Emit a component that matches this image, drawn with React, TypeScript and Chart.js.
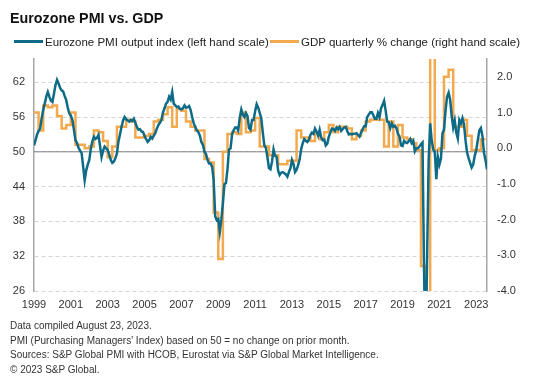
import React, { useEffect, useRef } from 'react';
import { Chart, registerables } from 'chart.js';

Chart.register(...registerables);

const TITLE = 'Eurozone PMI vs. GDP';
const PMI_LABEL = 'Eurozone PMI output index (left hand scale)';
const GDP_LABEL = 'GDP quarterly % change (right hand scale)';
const NOTES = [
  'Data compiled August 23, 2023.',
  "PMI (Purchasing Managers' Index) based on 50 = no change on prior month.",
  'Sources: S&P Global PMI with HCOB, Eurostat via S&P Global Market Intelligence.',
  '\u00A9 2023 S&P Global.',
];

// Monthly PMI, starting January 1999
const PMI_START_YEAR = 1999;
const pmi1999 = [51.1, 52.0, 53.0, 53.6, 54.0, 55.8, 57.2, 58.3, 59.5, 60.3, 59.5, 58.8];
const pmi2000 = [58.6, 60.0, 61.5, 62.4, 61.8, 61.0, 60.6, 60.4, 59.6, 58.9, 57.6, 56.6];
const pmi2001 = [56.2, 55.5, 53.8, 52.0, 51.5, 50.7, 50.2, 49.8, 47.5, 45.1, 46.8, 47.8];
const pmi2002 = [48.6, 50.5, 51.8, 52.6, 52.2, 52.4, 52.9, 51.0, 49.1, 50.2, 50.9, 50.6];
const pmi2003 = [50.3, 49.5, 48.6, 48.1, 48.3, 48.9, 49.7, 51.8, 53.0, 54.3, 55.4, 56.0];
const pmi2004 = [55.6, 55.4, 55.2, 55.5, 55.3, 55.7, 55.0, 54.3, 53.8, 53.9, 53.5, 53.4];
const pmi2005 = [52.7, 52.2, 51.7, 52.0, 52.6, 52.3, 52.8, 53.2, 54.0, 54.6, 55.0, 55.5];
const pmi2006 = [56.8, 57.5, 58.3, 58.6, 59.5, 59.0, 60.3, 58.3, 58.0, 57.7, 57.8, 57.4];
const pmi2007 = [57.3, 57.5, 58.0, 57.6, 57.7, 57.9, 57.2, 56.0, 54.9, 54.3, 53.7, 53.4];
const pmi2008 = [52.8, 51.7, 51.2, 50.0, 49.6, 48.6, 48.0, 48.0, 47.4, 45.1, 38.9, 38.2];
const pmi2009 = [38.4, 36.2, 38.3, 41.1, 44.4, 44.6, 47.0, 50.4, 50.6, 53.0, 53.7, 54.2];
const pmi2010 = [54.2, 53.7, 55.9, 57.3, 56.4, 56.0, 56.7, 56.2, 54.1, 53.8, 55.5, 55.5];
const pmi2011 = [57.0, 58.2, 57.6, 56.7, 55.8, 53.3, 51.1, 50.7, 49.1, 47.2, 47.0, 48.3];
const pmi2012 = [50.4, 49.3, 49.1, 46.7, 46.0, 46.4, 46.5, 46.3, 46.1, 45.7, 46.5, 47.2];
const pmi2013 = [48.6, 47.9, 46.5, 46.9, 47.7, 48.7, 50.5, 51.5, 52.2, 51.9, 51.7, 52.1];
const pmi2014 = [52.9, 53.3, 53.1, 54.0, 53.5, 52.8, 53.8, 52.5, 52.0, 52.1, 51.1, 51.4];
const pmi2015 = [52.6, 53.3, 54.0, 53.9, 53.6, 54.2, 53.9, 54.3, 53.6, 53.9, 54.2, 54.3];
const pmi2016 = [53.6, 53.0, 53.1, 53.0, 53.1, 53.1, 53.2, 52.9, 52.6, 53.3, 53.9, 54.4];
const pmi2017 = [54.4, 56.0, 56.4, 56.8, 56.8, 56.3, 55.7, 55.7, 56.7, 56.0, 57.5, 58.1];
const pmi2018 = [58.8, 57.1, 55.2, 55.1, 54.1, 54.9, 54.3, 54.5, 54.1, 53.1, 52.7, 51.1];
const pmi2019 = [51.0, 51.9, 51.6, 51.5, 51.8, 52.2, 51.5, 51.9, 50.1, 50.6, 50.6, 50.9];
const pmi2020 = [51.3, 51.6, 29.7, 13.6, 31.9, 48.5, 54.9, 51.9, 50.4, 50.0, 45.3, 49.1];
const pmi2021 = [47.8, 48.8, 53.2, 53.8, 57.1, 59.5, 60.2, 59.0, 56.2, 54.2, 55.4, 53.3];
const pmi2022 = [52.3, 55.5, 54.9, 55.8, 54.8, 52.0, 49.9, 48.9, 48.1, 47.3, 47.8, 49.3];
const pmi2023 = [50.3, 52.0, 53.7, 54.1, 52.8, 49.9, 48.6, 47.0];

// Quarterly GDP % change, starting 1999 Q1
const GDP_START_YEAR = 1999;
const gdp1999 = [1.0, 0.5, 1.2, 1.15];
const gdp2000 = [1.2, 0.9, 0.55, 0.65];
const gdp2001 = [1.0, 0.1, 0.1, 0.0];
const gdp2002 = [0.05, 0.5, 0.45, 0.2];
const gdp2003 = [-0.25, 0.05, 0.6, 0.6];
const gdp2004 = [0.8, 0.75, 0.3, 0.3];
const gdp2005 = [0.35, 0.4, 0.75, 0.8];
const gdp2006 = [0.95, 1.15, 0.6, 1.1];
const gdp2007 = [1.05, 0.75, 0.6, 0.5];
const gdp2008 = [0.5, -0.3, -0.4, -1.8];
const gdp2009 = [-3.1, -0.1, 0.4, 0.45];
const gdp2010 = [0.4, 1.0, 0.45, 0.5];
const gdp2011 = [0.85, 0.05, 0.05, -0.2];
const gdp2012 = [-0.2, -0.45, -0.45, -0.35];
const gdp2013 = [-0.35, 0.5, 0.3, 0.3];
const gdp2014 = [0.2, 0.45, 0.25, 0.45];
const gdp2015 = [0.65, 0.45, 0.6, 0.6];
const gdp2016 = [0.55, 0.25, 0.35, 0.5];
const gdp2017 = [0.75, 0.8, 0.8, 0.8];
const gdp2018 = [0.05, 0.75, 0.05, 0.65];
const gdp2019 = [0.3, 0.25, 0.15, -0.05];
const gdp2020 = [-3.3, -11.5, 12.4, -0.05];
const gdp2021 = [0.0, 2.0, 2.2, 0.6];
const gdp2022 = [0.6, 0.8, 0.35, -0.05];
const gdp2023 = [-0.05, 0.25];

const xTickYears = [1999, 2001, 2003, 2005, 2007, 2009, 2011, 2013, 2015, 2017, 2019, 2021, 2023];
const leftTicks = [26, 32, 38, 44, 50, 56, 62];
const rightTicks = [-4, -3, -2, -1, 0, 1, 2];
const NO_CHANGE_LEVEL = 50;

const X_MIN = 1999;
const X_MAX = 2023 + 7 / 12;
const LEFT_MIN = 26;
const LEFT_MAX = 66;
const RIGHT_MIN = -4;
const RIGHT_MAX = 2.5;

const TEAL = '#0d6b88';
const ORANGE = '#f3a94d';
const FONT = 'Arial, "Liberation Sans", Helvetica, sans-serif';

const pmiMonthly = [
  ...pmi1999, ...pmi2000, ...pmi2001, ...pmi2002, ...pmi2003, ...pmi2004, ...pmi2005,
  ...pmi2006, ...pmi2007, ...pmi2008, ...pmi2009, ...pmi2010, ...pmi2011, ...pmi2012,
  ...pmi2013, ...pmi2014, ...pmi2015, ...pmi2016, ...pmi2017, ...pmi2018, ...pmi2019,
  ...pmi2020, ...pmi2021, ...pmi2022, ...pmi2023,
];
const gdpQuarterly = [
  ...gdp1999, ...gdp2000, ...gdp2001, ...gdp2002, ...gdp2003, ...gdp2004, ...gdp2005,
  ...gdp2006, ...gdp2007, ...gdp2008, ...gdp2009, ...gdp2010, ...gdp2011, ...gdp2012,
  ...gdp2013, ...gdp2014, ...gdp2015, ...gdp2016, ...gdp2017, ...gdp2018, ...gdp2019,
  ...gdp2020, ...gdp2021, ...gdp2022, ...gdp2023,
];

const CANVAS_W = 545;
const CANVAS_H = 320;

const noChangeLine = {
  id: 'noChangeLine',
  beforeDatasetsDraw(chart: any) {
    const { ctx, chartArea } = chart;
    const y = chart.scales.y.getPixelForValue(NO_CHANGE_LEVEL);
    ctx.save();
    ctx.strokeStyle = '#808080';
    ctx.lineWidth = 1;
    ctx.beginPath();
    ctx.moveTo(chartArea.left, y);
    ctx.lineTo(chartArea.right, y);
    ctx.stroke();
    ctx.restore();
  },
};

export default function App() {
  const ref = useRef<HTMLCanvasElement | null>(null);

  useEffect(() => {
    if (!ref.current) return;
    const pmiPoints = pmiMonthly.map((v, i) => ({ x: PMI_START_YEAR + i / 12, y: v }));
    const gdpPoints = gdpQuarterly.map((v, i) => ({ x: GDP_START_YEAR + i / 4, y: v }));
    gdpPoints.push({ x: GDP_START_YEAR + gdpQuarterly.length / 4, y: gdpQuarterly[gdpQuarterly.length - 1] });

    const tickFont = { family: FONT, size: 11 };
    const chart = new Chart(ref.current, {
      type: 'line',
      data: {
        datasets: [
          {
            label: PMI_LABEL,
            data: pmiPoints,
            yAxisID: 'y',
            borderColor: TEAL,
            backgroundColor: TEAL,
            borderWidth: 2.5,
            pointRadius: 0,
            tension: 0,
          },
          {
            label: GDP_LABEL,
            data: gdpPoints,
            yAxisID: 'y1',
            borderColor: ORANGE,
            backgroundColor: ORANGE,
            borderWidth: 2.5,
            pointRadius: 0,
            stepped: true,
          },
        ],
      },
      options: {
        responsive: false,
        animation: false,
        devicePixelRatio: 1,
        layout: { padding: { top: 59, left: 0, right: 0, bottom: 0 } },
        plugins: {
          legend: { display: false },
          title: { display: false },
          tooltip: { enabled: false },
        },
        scales: {
          x: {
            type: 'linear',
            min: X_MIN,
            max: X_MAX,
            grid: { display: false, drawTicks: false },
            border: { display: false },
            afterBuildTicks: (s: any) => {
              s.ticks = xTickYears.map((v) => ({ value: v }));
            },
            afterFit: (s: any) => {
              s.height = CANVAS_H - 291;
            },
            ticks: {
              font: tickFont,
              color: '#333',
              padding: 7,
              maxRotation: 0,
              autoSkip: false,
              callback: (v: any) => String(v),
            },
          },
          y: {
            type: 'linear',
            position: 'left',
            min: LEFT_MIN,
            max: LEFT_MAX,
            afterBuildTicks: (s: any) => {
              s.ticks = leftTicks.map((v) => ({ value: v }));
            },
            afterFit: (s: any) => {
              s.width = 34;
            },
            grid: { color: '#d4d4d4', lineWidth: 1, drawTicks: false },
            border: { display: true, color: '#a6a6a6', width: 1.5, dash: [4, 3] },
            ticks: {
              font: tickFont,
              color: '#333',
              padding: 9,
              callback: (v: any) => String(v),
            },
          },
          y1: {
            type: 'linear',
            position: 'right',
            min: RIGHT_MIN,
            max: RIGHT_MAX,
            afterBuildTicks: (s: any) => {
              s.ticks = rightTicks.map((v) => ({ value: v }));
            },
            afterFit: (s: any) => {
              s.width = CANVAS_W - 487;
            },
            grid: { display: false, drawTicks: false },
            border: { display: true, color: '#a6a6a6', width: 1.5 },
            ticks: {
              font: tickFont,
              color: '#333',
              padding: 10,
              callback: (v: any) => Number(v).toFixed(1),
            },
          },
        },
      },
      plugins: [noChangeLine],
    } as any);
    return () => chart.destroy();
  }, []);

  const legendItem = (color: string, text: string, lineLeft: number) => (
    <div
      style={{
        position: 'absolute',
        left: lineLeft,
        top: 34,
        height: 15,
        display: 'flex',
        alignItems: 'center',
        whiteSpace: 'nowrap',
      }}
    >
      <div style={{ width: 29, height: 2.5, background: color }} />
      <span style={{ marginLeft: 2, fontSize: 11.5, color: '#222', fontFamily: FONT }}>{text}</span>
    </div>
  );

  return (
    <div
      style={{
        position: 'fixed',
        left: 0,
        top: 0,
        width: CANVAS_W,
        height: 386,
        background: '#fff',
        overflow: 'hidden',
        fontFamily: FONT,
      }}
    >
      <canvas
        ref={ref}
        width={CANVAS_W}
        height={CANVAS_H}
        style={{ position: 'absolute', left: 0, top: 0, width: CANVAS_W, height: CANVAS_H }}
      />
      <div
        style={{
          position: 'absolute',
          left: 10,
          top: 11,
          fontSize: 14.3,
          lineHeight: '14px',
          fontWeight: 'bold',
          color: '#111',
          whiteSpace: 'nowrap',
        }}
      >
        {TITLE}
      </div>
      {legendItem(TEAL, PMI_LABEL, 14)}
      {legendItem(ORANGE, GDP_LABEL, 270)}
      <div style={{ position: 'absolute', left: 10, top: 319, fontSize: 10, lineHeight: '14.6px', color: '#333' }}>
        {NOTES.map((n, i) => (
          <div key={i} style={{ whiteSpace: 'nowrap' }}>
            {n}
          </div>
        ))}
      </div>
    </div>
  );
}
